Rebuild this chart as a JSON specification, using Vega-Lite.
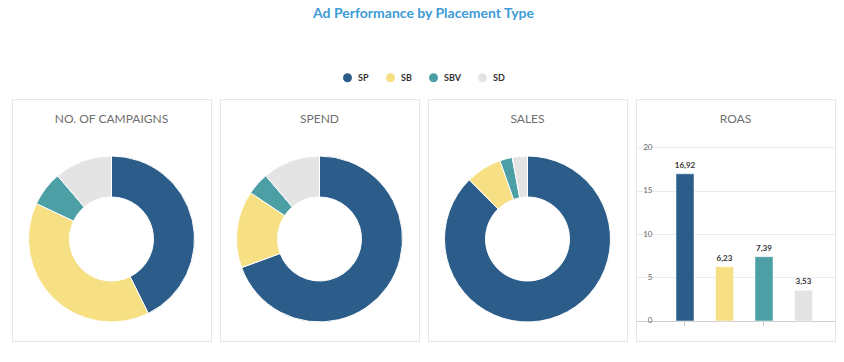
{
  "$schema": "https://vega.github.io/schema/vega-lite/v6.json",
  "background": "white",
  "padding": {"left": 11, "top": 7, "right": 5, "bottom": 5},
  "title": {
    "text": "Ad Performance by Placement Type",
    "font": "Lato",
    "fontSize": 14,
    "fontWeight": "bold",
    "color": "#3d9bd6",
    "anchor": "middle",
    "offset": 52
  },
  "datasets": {
    "placements": [
      {"placement": "SP", "campaigns": 38, "spend": 69400, "sales": 1174248, "roas": 16.92},
      {"placement": "SB", "campaigns": 35, "spend": 15000, "sales": 93450, "roas": 6.23},
      {"placement": "SBV", "campaigns": 6, "spend": 4400, "sales": 32516, "roas": 7.39},
      {"placement": "SD", "campaigns": 10, "spend": 11200, "sales": 39536, "roas": 3.53}
    ]
  },
  "spacing": 7,
  "hconcat": [
    {
      "data": {"name": "placements"},
      "width": 199,
      "height": 242,
      "view": {"stroke": "#e6e6e6"},
      "title": {"text": "NO. OF CAMPAIGNS", "offset": -27, "font": "Lato", "fontSize": 12, "fontWeight": "normal", "color": "#6f6f6f", "anchor": "middle"},
      "transform": [{"calculate": "indexof(['SP','SB','SBV','SD'], datum.placement)", "as": "k"}],
      "mark": {"type": "arc", "innerRadius": 42, "radius": 83, "stroke": "white", "strokeWidth": 1, "yOffset": 19},
      "encoding": {
        "theta": {"field": "campaigns", "type": "quantitative", "stack": true},
        "order": {"field": "k", "type": "quantitative"},
        "color": {
          "field": "placement",
          "type": "nominal",
          "scale": {"domain": ["SP", "SB", "SBV", "SD"], "range": ["#2c5d8a", "#f7df83", "#4c9fa5", "#e4e4e4"]},
          "legend": {
            "orient": "top",
            "direction": "horizontal",
            "title": null,
            "symbolType": "circle",
            "symbolSize": 80,
            "symbolStrokeWidth": 0,
            "labelFont": "Lato",
            "labelFontSize": 9,
            "labelFontWeight": "bold",
            "labelColor": "#333333",
            "labelOffset": 6,
            "columnPadding": 17,
            "offset": 15
          }
        }
      }
    },
    {
      "data": {"name": "placements"},
      "width": 199,
      "height": 242,
      "view": {"stroke": "#e6e6e6"},
      "title": {"text": "SPEND", "offset": -27, "font": "Lato", "fontSize": 12, "fontWeight": "normal", "color": "#6f6f6f", "anchor": "middle"},
      "transform": [{"calculate": "indexof(['SP','SB','SBV','SD'], datum.placement)", "as": "k"}],
      "mark": {"type": "arc", "innerRadius": 42, "radius": 83, "stroke": "white", "strokeWidth": 1, "yOffset": 19},
      "encoding": {
        "theta": {"field": "spend", "type": "quantitative", "stack": true},
        "order": {"field": "k", "type": "quantitative"},
        "color": {"field": "placement", "type": "nominal"}
      }
    },
    {
      "data": {"name": "placements"},
      "width": 199,
      "height": 242,
      "view": {"stroke": "#e6e6e6"},
      "title": {"text": "SALES", "offset": -27, "font": "Lato", "fontSize": 12, "fontWeight": "normal", "color": "#6f6f6f", "anchor": "middle"},
      "transform": [{"calculate": "indexof(['SP','SB','SBV','SD'], datum.placement)", "as": "k"}],
      "mark": {"type": "arc", "innerRadius": 42, "radius": 83, "stroke": "white", "strokeWidth": 1, "yOffset": 19},
      "encoding": {
        "theta": {"field": "sales", "type": "quantitative", "stack": true},
        "order": {"field": "k", "type": "quantitative"},
        "color": {"field": "placement", "type": "nominal"}
      }
    },
    {
      "data": {"name": "placements"},
      "width": 199,
      "height": 242,
      "view": {"stroke": "#e6e6e6"},
      "title": {"text": "ROAS", "offset": -27, "font": "Lato", "fontSize": 12, "fontWeight": "normal", "color": "#6f6f6f", "anchor": "middle"},
      "encoding": {
        "x": {
          "field": "placement",
          "type": "nominal",
          "sort": ["SP", "SB", "SBV", "SD"],
          "scale": {"paddingInner": 0.544, "paddingOuter": 0.791, "align": 0.64},
          "axis": {"orient": "bottom", "offset": -20, "values": ["SP", "SBV"], "labels": false, "title": null, "domainColor": "#cccccc", "tickColor": "#cccccc", "tickSize": 5, "bandPosition": 0.5, "grid": false}
        },
        "y": {
          "field": "roas",
          "type": "quantitative",
          "scale": {"domain": [-2.3, 25.52], "nice": false, "zero": false},
          "axis": {"values": [0, 5, 10, 15, 20], "title": null, "domain": false, "ticks": false, "labelFont": "Lato", "labelFontSize": 8, "labelColor": "#666666", "labelPadding": 2, "offset": -18, "grid": true, "gridColor": "#ebebeb"}
        }
      },
      "layer": [
        {
          "mark": {"type": "bar", "stroke": "white", "strokeOpacity": 0.5, "strokeWidth": 1},
          "encoding": {
            "y2": {"datum": 0},
            "color": {"field": "placement", "type": "nominal"}
          }
        },
        {
          "mark": {"type": "text", "baseline": "bottom", "dy": -4, "font": "Lato", "fontSize": 8, "fontWeight": "bold", "color": "#333333"},
          "encoding": {
            "text": {"field": "roas", "type": "quantitative", "format": ".2f"}
          }
        }
      ]
    }
  ],
  "config": {
    "locale": {"number": {"decimal": ",", "thousands": ".", "grouping": [3], "currency": ["", " €"]}},
    "view": {"stroke": "#e6e6e6"},
    "legend": {"layout": {"top": {"anchor": "middle"}}}
  }
}
